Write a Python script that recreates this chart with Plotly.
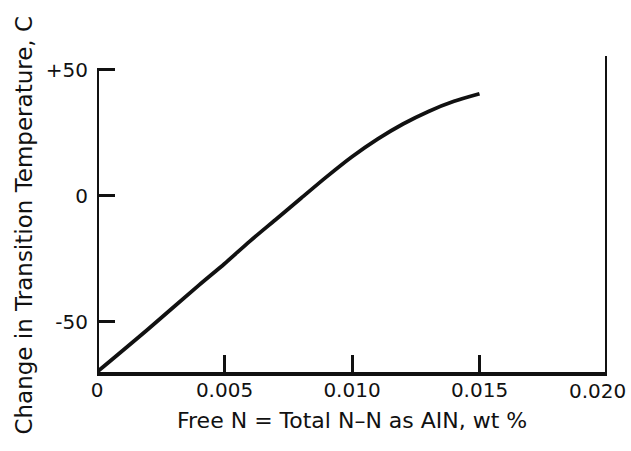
import plotly.graph_objects as go

# Data
free_n = [0.0, 0.002, 0.004, 0.005, 0.006, 0.007, 0.008, 0.009, 0.010, 0.011, 0.012, 0.013, 0.014, 0.015]
delta_t = [-70, -53, -35.5, -27, -18, -9.5, -1, 7.5, 15.5, 22.5, 28.5, 33.5, 37.5, 40.5]

x_ticks = [0, 0.005, 0.010, 0.015, 0.020]
x_ticklabels = ["0", "0.005", "0.010", "0.015", "0.020"]
y_ticks = [-50, 0, 50]
y_ticklabels = ["-50", "0", "+50"]

x_range = [0, 0.020]
y_range = [-70, 55.5]

ink = "#111111"
font_family = "DejaVu Sans"

fig = go.Figure()
fig.add_trace(go.Scatter(
    x=free_n, y=delta_t, mode="lines",
    line=dict(color=ink, width=3.8, shape="spline", smoothing=0.8),
    showlegend=False, hoverinfo="skip",
))

# Axis frame lines (left axis ends at +50, right axis slightly taller)
fig.add_shape(type="line", x0=x_range[0], x1=x_range[0], y0=y_range[0], y1=y_ticks[-1],
              line=dict(color=ink, width=4), layer="above")
fig.add_shape(type="line", x0=x_range[1], x1=x_range[1], y0=y_range[0], y1=y_range[1],
              line=dict(color=ink, width=4), layer="above")

# last x tick label is placed so it stays inside the page (as in the reference)
shown_ticktext = x_ticklabels[:-1] + [""]

fig.update_layout(
    width=631, height=451,
    margin=dict(l=97, r=24, t=56, b=79, autoexpand=False),
    paper_bgcolor="white", plot_bgcolor="white",
    font=dict(family=font_family, color=ink, size=18),
    xaxis=dict(
        range=x_range, tickvals=x_ticks, ticktext=shown_ticktext,
        showgrid=False, zeroline=False, automargin=False,
        showline=True, linecolor=ink, linewidth=4,
        ticks="inside", ticklen=17, tickwidth=2.5, tickcolor=ink,
        ticklabelstandoff=-3, ticklabeloverflow="allow",
        tickfont=dict(size=20, family=font_family, color=ink),
    ),
    yaxis=dict(
        range=y_range, tickvals=y_ticks, ticktext=y_ticklabels,
        showgrid=False, zeroline=False, showline=False, automargin=False,
        ticks="inside", ticklen=18, tickwidth=2.5, tickcolor=ink,
        ticklabelstandoff=8,
        tickfont=dict(size=20, family=font_family, color=ink),
    ),
    annotations=[
        dict(text=x_ticklabels[-1], xref="x", yref="paper",
             x=x_ticks[-1], y=0, xanchor="right", yanchor="top",
             xshift=21, yshift=-5, showarrow=False,
             font=dict(size=20, family=font_family, color=ink)),
        dict(text="Free N = Total N\u2013N as AIN, wt %", xref="paper", yref="paper",
             x=0.5, y=-0.152, xanchor="center", yanchor="middle", showarrow=False,
             font=dict(size=22, family=font_family, color=ink)),
        dict(text="Change in Transition Temperature, C", xref="paper", yref="paper",
             x=-0.145, y=0.4636, xanchor="center", yanchor="middle", textangle=-90,
             showarrow=False, font=dict(size=23, family=font_family, color=ink)),
    ],
)

fig.write_html("out.html")
